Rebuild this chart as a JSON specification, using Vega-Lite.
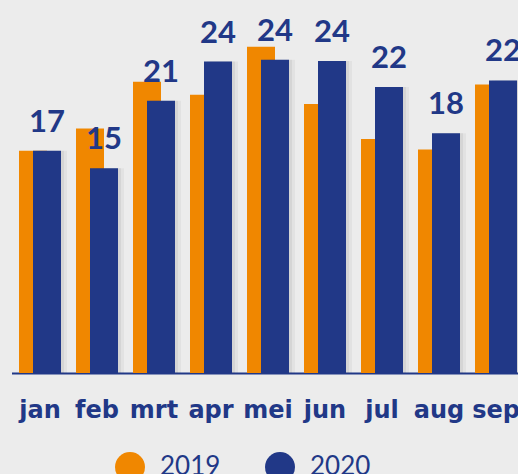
{
  "$schema": "https://vega.github.io/schema/vega-lite/v6.json",
  "width": 513,
  "height": 373,
  "autosize": {"type": "none"},
  "padding": {"left": 11.5, "top": 0, "right": 0, "bottom": 101},
  "background": "#ececec",
  "config": {"view": {"stroke": null}},
  "data": {
    "values": [
      {"month": "jan", "year": "2019", "value": 17.1},
      {"month": "feb", "year": "2019", "value": 18.8},
      {"month": "mrt", "year": "2019", "value": 22.4},
      {"month": "apr", "year": "2019", "value": 21.4},
      {"month": "mei", "year": "2019", "value": 25.1},
      {"month": "jun", "year": "2019", "value": 20.7},
      {"month": "jul", "year": "2019", "value": 18.0},
      {"month": "aug", "year": "2019", "value": 17.2},
      {"month": "sep", "year": "2019", "value": 22.2},
      {"month": "jan", "year": "2020", "value": 17.1, "label": "17"},
      {"month": "feb", "year": "2020", "value": 15.75, "label": "15"},
      {"month": "mrt", "year": "2020", "value": 20.95, "label": "21"},
      {"month": "apr", "year": "2020", "value": 23.95, "label": "24"},
      {"month": "mei", "year": "2020", "value": 24.1, "label": "24"},
      {"month": "jun", "year": "2020", "value": 24.0, "label": "24"},
      {"month": "jul", "year": "2020", "value": 22.0, "label": "22"},
      {"month": "aug", "year": "2020", "value": 18.45, "label": "18"},
      {"month": "sep", "year": "2020", "value": 22.5, "label": "22"}
    ]
  },
  "encoding": {
    "x": {
      "field": "month",
      "type": "nominal",
      "sort": ["jan", "feb", "mrt", "apr", "mei", "jun", "jul", "aug", "sep"],
      "scale": {"paddingInner": 0, "paddingOuter": 0},
      "axis": {
        "title": null,
        "labelAngle": 0,
        "ticks": false,
        "domainColor": "#213887",
        "domainWidth": 2,
        "labelFont": "DejaVu Sans",
        "labelFontWeight": "bold",
        "labelFontSize": 24,
        "labelColor": "#213887",
        "labelPadding": 25,
        "grid": false
      }
    },
    "y": {
      "field": "value",
      "type": "quantitative",
      "scale": {"domain": [0, 28.69], "nice": false},
      "axis": null
    }
  },
  "layer": [
    {
      "transform": [{"filter": "datum.year == '2019'"}],
      "mark": {"type": "bar", "size": 28, "xOffset": -7},
      "encoding": {
        "color": {
          "field": "year",
          "type": "nominal",
          "scale": {"domain": ["2019", "2020"], "range": ["#f08700", "#213887"]},
          "legend": {
            "title": null,
            "orient": "none",
            "direction": "horizontal",
            "legendX": 103.5,
            "legendY": 452,
            "padding": 0,
            "symbolType": "circle",
            "symbolSize": 900,
            "symbolStrokeWidth": 0,
            "symbolOpacity": 1,
            "labelFont": "Lato",
            "labelFontSize": 26,
            "labelColor": "#213887",
            "labelOffset": 15,
            "columnPadding": 44
          }
        }
      }
    },
    {
      "transform": [{"filter": "datum.year == '2020'"}],
      "mark": {"type": "bar", "size": 28, "xOffset": 10, "color": "#000000", "opacity": 0.06},
      "encoding": {}
    },
    {
      "transform": [{"filter": "datum.year == '2020'"}],
      "mark": {"type": "bar", "size": 28, "xOffset": 13, "color": "#000000", "opacity": 0.04},
      "encoding": {}
    },
    {
      "transform": [{"filter": "datum.year == '2020'"}],
      "mark": {"type": "bar", "size": 28, "xOffset": 7},
      "encoding": {
        "color": {"field": "year", "type": "nominal"}
      }
    },
    {
      "transform": [{"filter": "datum.year == '2020'"}],
      "mark": {
        "type": "text",
        "xOffset": 7,
        "dy": -19,
        "baseline": "alphabetic",
        "font": "Lato",
        "fontWeight": "bold",
        "fontSize": 31,
        "color": "#213887"
      },
      "encoding": {"text": {"field": "label"}}
    }
  ]
}
